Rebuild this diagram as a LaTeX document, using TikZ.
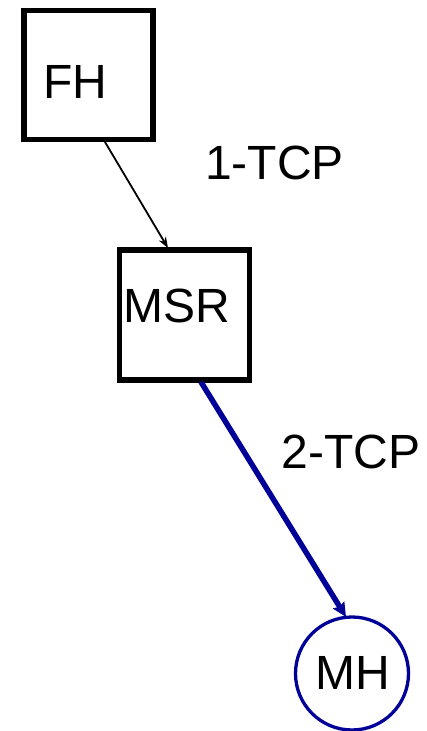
\documentclass[tikz,border=0pt]{standalone}
\usepackage{fontspec}
\setmainfont{Liberation Sans}
\usetikzlibrary{arrows.meta}
\definecolor{navy}{RGB}{0,0,153}
\begin{document}
\begin{tikzpicture}[x=1pt,y=-1pt,
  hostbox/.style={draw=black,line width=5.5pt,inner sep=0pt},
  hostcircle/.style={circle,draw=navy,line width=3.3pt,minimum size=113pt,inner sep=0pt},
  caption/.style={font=\fontsize{48}{48}\selectfont,inner sep=0pt,anchor=center},
  thinlink/.style={line width=1.8pt,-{Stealth[length=11pt,width=8pt]}},
  thicklink/.style={draw=navy,line width=5.5pt,-{Stealth[length=14pt,width=13pt,inset=2pt]}}]
  \useasboundingbox (0,0) rectangle (427,731);
  % hosts
  \node[hostbox,minimum size=129pt] (fh) at (88.5,75) {};
  \node[hostbox,minimum size=130pt] (msr) at (184.5,315) {};
  \node[hostcircle] (mh) at (352,673.5) {};
  % host names
  \node[caption] (fhtext) at (75,82) {FH};
  \node[caption] (msrtext) at (177,305.5) {MSR};
  \node[caption] (mhtext) at (352.5,673) {MH};
  % connection labels
  \node[caption] (tcp1) at (274.5,162.5) {1-TCP};
  \node[caption] (tcp2) at (351,451.5) {2-TCP};
  % anchor points on the host outlines
  \coordinate (fhout) at (105,142);
  \coordinate (msrin) at (168,248);
  \coordinate (msrout) at (201,382);
  \coordinate (mhin) at (346,617);
  % links
  \draw[thinlink] (fhout) -- (msrin);
  \draw[thicklink] (msrout) -- (mhin);
\end{tikzpicture}
\end{document}
